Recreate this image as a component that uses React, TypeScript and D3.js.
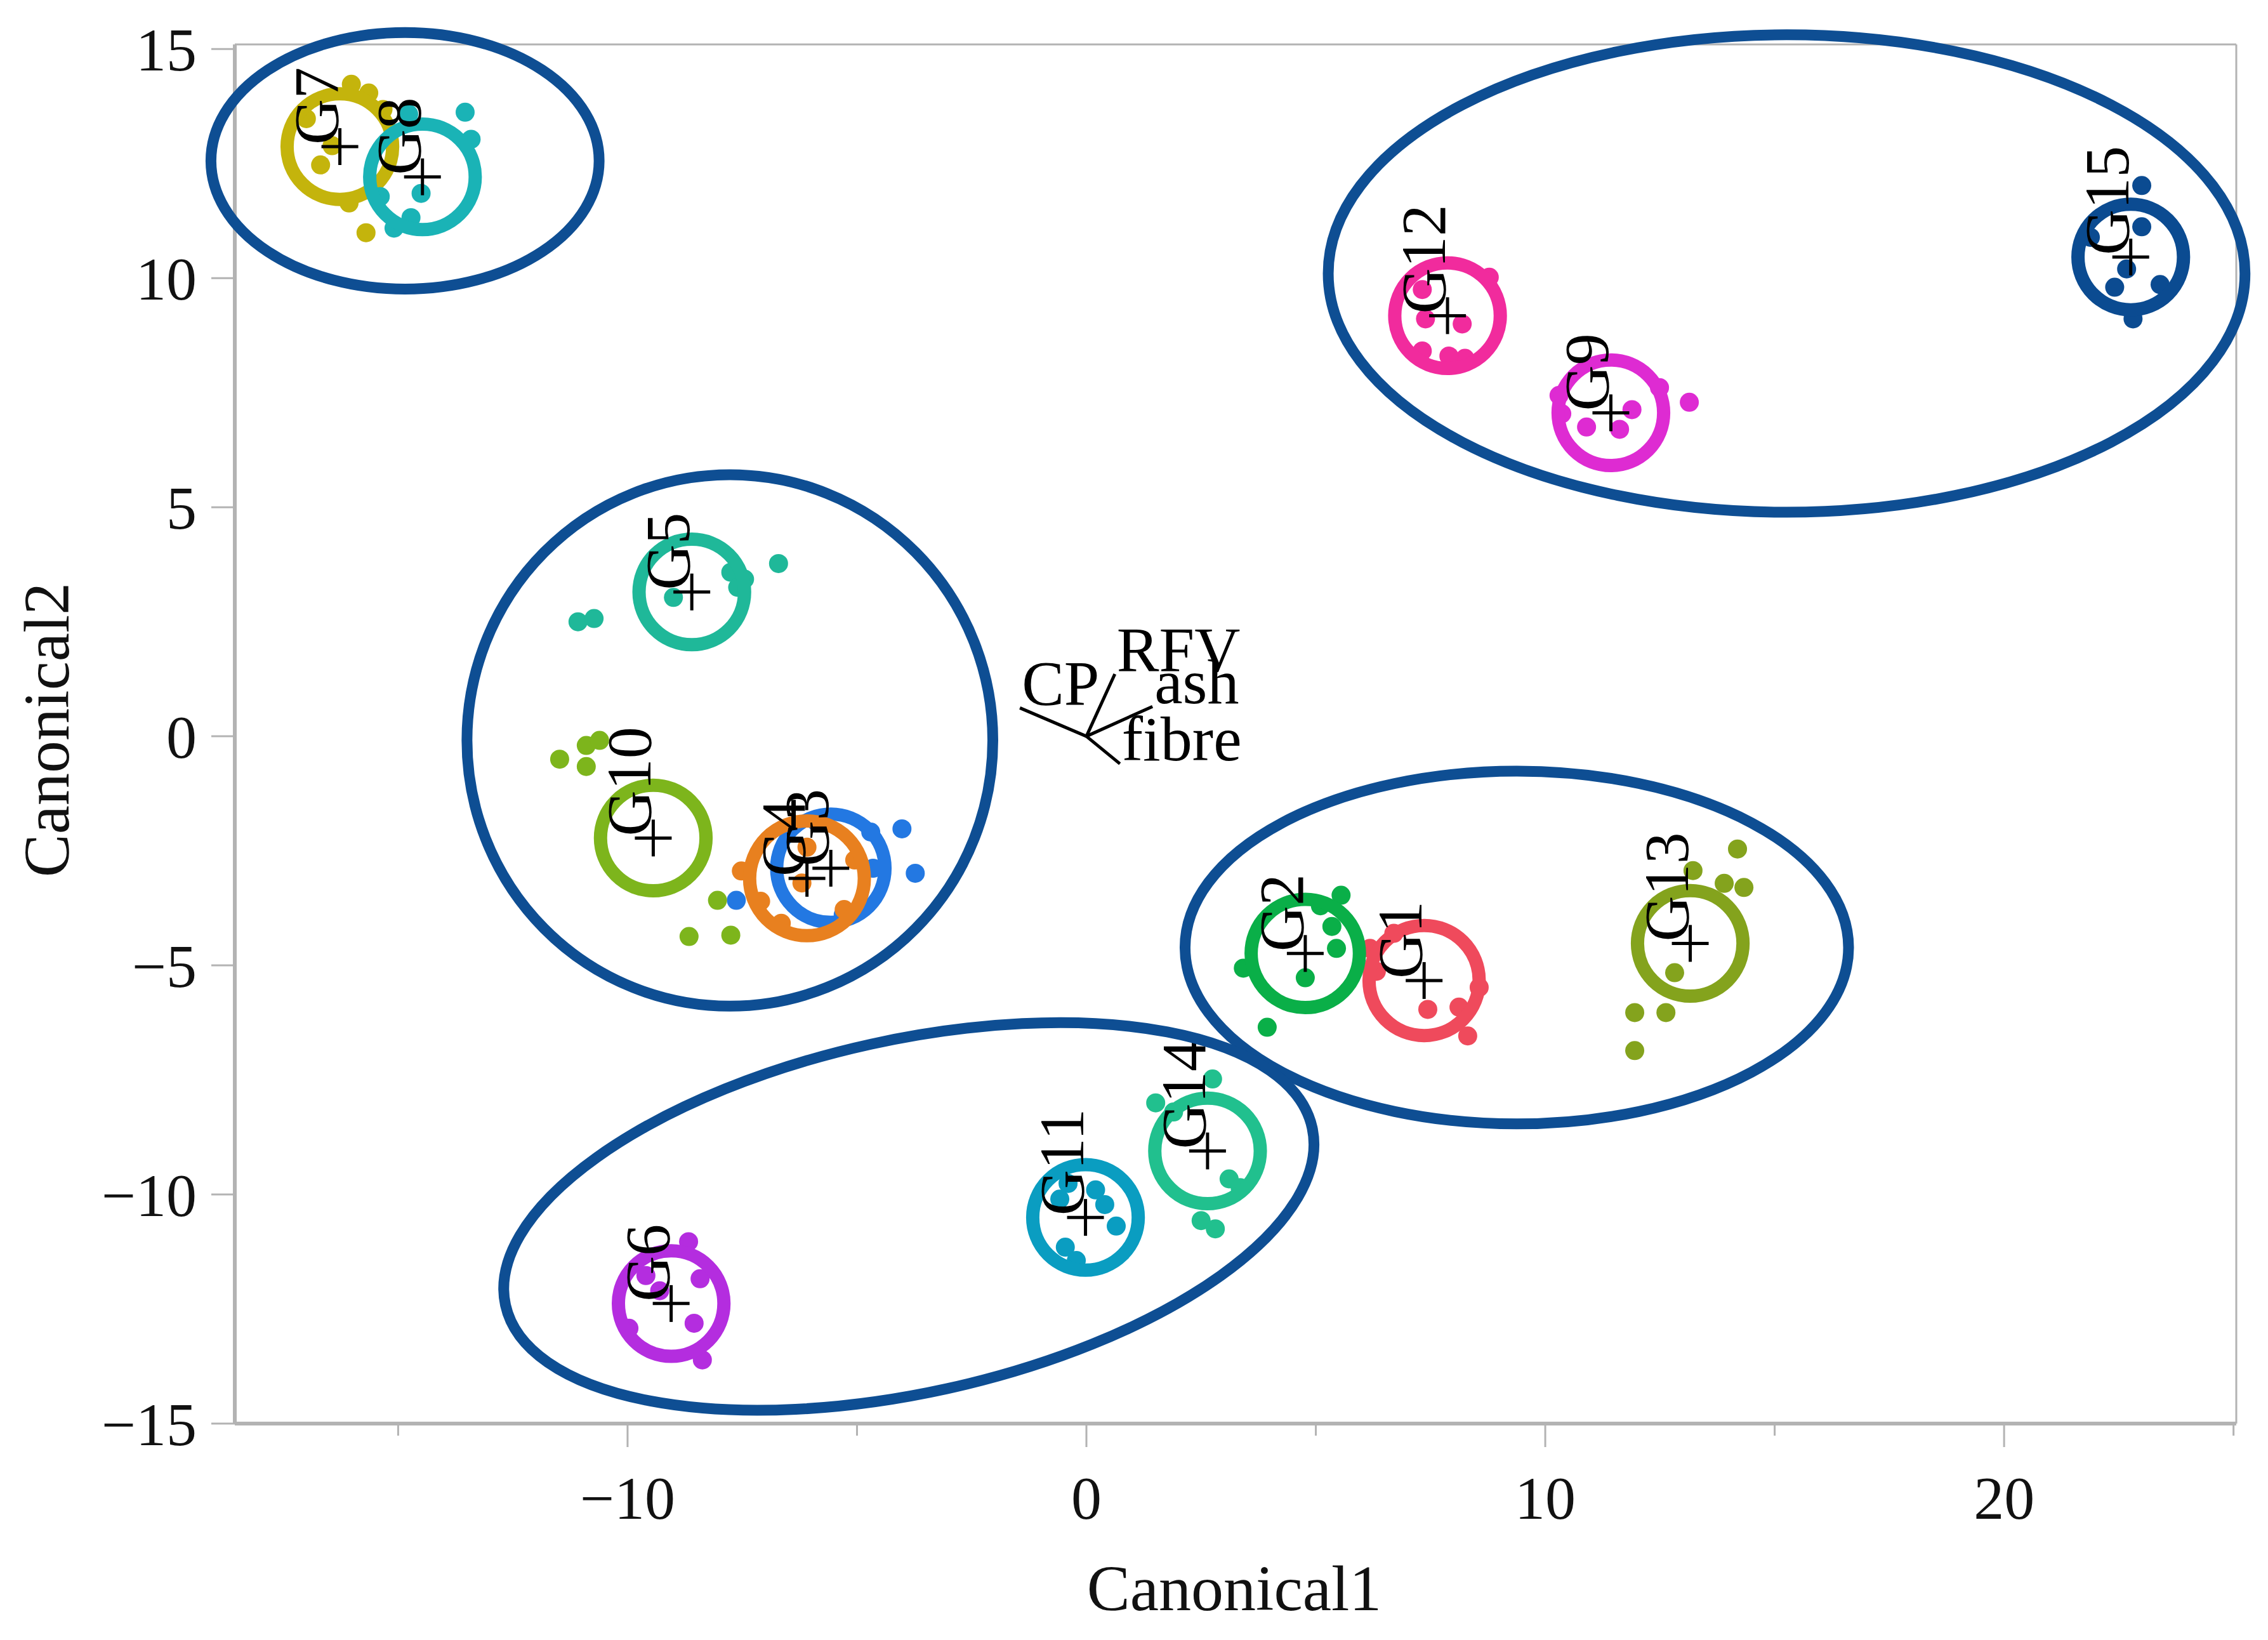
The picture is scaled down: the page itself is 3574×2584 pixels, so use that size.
import * as d3 from 'd3';

// canonical plot: group means, 95% circles, raw points, biplot rays
const groupNames = ['G1', 'G2', 'G3', 'G4', 'G5', 'G6', 'G7', 'G8', 'G9', 'G10', 'G11', 'G12', 'G13', 'G14', 'G15'];
const centroidX = [7.36, 4.77, -5.57, -6.09, -8.6, -9.05, -16.27, -14.47, 11.43, -9.44, -0.02, 7.87, 13.16, 2.64, 22.76];
const centroidY = [-5.33, -4.74, -2.88, -3.1, 3.15, -12.38, 12.87, 12.21, 7.06, -2.22, -10.5, 9.18, -4.52, -9.05, 10.46];
const circleRadius = [1.2, 1.18, 1.18, 1.25, 1.15, 1.15, 1.15, 1.15, 1.15, 1.15, 1.15, 1.15, 1.15, 1.15, 1.15];
const groupColors = ['#ef4a5c', '#0aaf48', '#2378e2', '#e8801f', '#1fb899', '#b42ddf', '#c4b40c', '#1ab3b6',
  '#de2bd2', '#7db51c', '#0a9dc1', '#f12b9d', '#84a31d', '#21c08e', '#0b4b91'];

const groupPoints: [number, number][][] = [
  // G1
  [[6.18, -4.63], [8.56, -5.48], [7.44, -5.96], [8.12, -5.91], [8.31, -6.54], [6.32, -5.13], [6.7, -4.3]],
  // G2
  [[5.55, -3.47], [5.35, -4.15], [5.45, -4.63], [3.42, -5.06], [4.77, -5.27], [3.94, -6.35], [5.1, -3.7]],
  // G3
  [[-4.02, -2.02], [-3.73, -2.99], [-7.63, -3.58], [-4.7, -2.09], [-4.65, -2.88], [-5.9, -1.85], [-5.3, -3.9]],
  // G4
  [[-7.52, -2.94], [-6.09, -2.42], [-5.28, -3.78], [-6.65, -4.08], [-6.2, -3.2], [-5.05, -2.7], [-7.1, -3.6]],
  // G5
  [[-6.71, 3.77], [-7.45, 3.43], [-7.75, 3.58], [-11.08, 2.5], [-10.73, 2.57], [-9.0, 3.03], [-7.6, 3.25]],
  // G6
  [[-8.67, -11.03], [-9.6, -11.77], [-8.42, -11.84], [-8.55, -12.81], [-8.37, -13.61], [-9.97, -12.92], [-9.3, -12.1]],
  // G7
  [[-16.02, 14.23], [-15.64, 14.04], [-16.69, 12.47], [-15.7, 10.99], [-16.07, 11.64], [-16.44, 12.89], [-15.33, 13.68], [-17.0, 13.48]],
  // G8
  [[-13.54, 13.62], [-13.41, 13.03], [-14.5, 11.85], [-14.72, 11.32], [-15.09, 11.09], [-15.39, 11.78], [-14.77, 13.58]],
  // G9
  [[13.14, 7.29], [10.3, 7.44], [10.9, 6.75], [11.62, 6.7], [11.89, 7.13], [12.49, 7.61], [10.36, 7.04]],
  // G10
  [[-11.48, -0.5], [-10.9, -0.2], [-10.61, -0.09], [-10.9, -0.66], [-8.04, -3.58], [-8.66, -4.37], [-7.75, -4.34]],
  // G11
  [[-0.4, -9.76], [0.4, -10.22], [0.65, -10.69], [-0.46, -11.15], [-0.22, -11.44], [-0.58, -10.1], [0.2, -9.9]],
  // G12
  [[8.78, 10.02], [7.32, 9.75], [7.32, 8.41], [8.25, 8.25], [8.19, 9.0], [7.39, 9.11], [7.9, 8.3]],
  // G13
  [[14.19, -2.46], [13.22, -2.93], [13.9, -3.21], [14.33, -3.3], [12.82, -5.16], [11.95, -6.03], [12.63, -6.03], [11.95, -6.86]],
  // G14
  [[2.75, -7.48], [1.51, -8.0], [3.11, -9.66], [2.5, -10.57], [2.81, -10.75], [3.35, -9.85], [1.9, -8.2]],
  // G15
  [[23.0, 12.02], [23.0, 11.12], [22.67, 10.2], [22.41, 9.8], [23.4, 9.86], [22.81, 9.11], [21.88, 10.89]],
];

// hand-drawn cluster ellipses (data units, angle in degrees)
const clusterCx = [-14.85, 15.26, -7.77, 9.38, -3.87];
const clusterCy = [12.56, 10.1, -0.09, -4.61, -10.48];
const clusterRx = [4.23, 9.99, 5.73, 7.23, 9.0];
const clusterRy = [2.8, 5.21, 5.8, 3.85, 3.85];
const clusterAngle = [0, 0, 0, 0, 12.4];

// biplot rays
const rayNames = ['CP', 'RFV', 'ash', 'fibre'];
const rayX = [-1.45, 0.62, 1.44, 0.73];
const rayY = [0.62, 1.36, 0.65, -0.6];

const xMajor = [-10, 0, 10, 20];
const xMinor = [-15, -5, 5, 15, 25];
const yTicks = [-15, -10, -5, 0, 5, 10, 15];

const FONT = "'Liberation Serif', 'Times New Roman', serif";
const AXIS_GREY = '#b3b3b3';
const RING_BLUE = '#0e4e93';

export default function App() {
  const width = 3574;
  const height = 2584;
  const left = 370;
  const right = 3524;
  const top = 70;
  const bottom = 2243;

  const x = d3.scaleLinear().domain([-18.56, 25.06]).range([left, right]);
  const y = d3.scaleLinear().domain([-15, 15.1]).range([bottom, top]);
  const kx = x(1) - x(0);
  const ky = y(0) - y(1);
  const fmt = d3.format('d');

  return (
    <svg
      width={width}
      height={height}
      style={{ position: 'absolute', left: 0, top: 0, background: '#fff' }}
      fontFamily={FONT}
    >
      {/* frame */}
      <line x1={left} x2={right} y1={top} y2={top} stroke={AXIS_GREY} strokeWidth={3} />
      <line x1={right} x2={right} y1={top} y2={bottom} stroke={AXIS_GREY} strokeWidth={3} />
      <line x1={left} x2={left} y1={top} y2={bottom} stroke={AXIS_GREY} strokeWidth={6} />
      <line x1={left} x2={right} y1={bottom} y2={bottom} stroke={AXIS_GREY} strokeWidth={6} />

      {/* y axis */}
      {yTicks.map((t) => (
        <g key={`y${t}`}>
          <line x1={left - 37} x2={left} y1={y(t)} y2={y(t)} stroke={AXIS_GREY} strokeWidth={3} />
          <text x={left - 60} y={y(t)} dy="0.35em" textAnchor="end" fontSize={96} fill="#111">
            {t < 0 ? `\u2212${fmt(-t)}` : fmt(t)}
          </text>
        </g>
      ))}

      {/* x axis */}
      {xMajor.map((t) => (
        <g key={`x${t}`}>
          <line x1={x(t)} x2={x(t)} y1={bottom} y2={bottom + 37} stroke={AXIS_GREY} strokeWidth={3} />
          <text x={x(t)} y={2393} textAnchor="middle" fontSize={96} fill="#111">
            {t < 0 ? `\u2212${fmt(-t)}` : fmt(t)}
          </text>
        </g>
      ))}
      {xMinor.map((t) => (
        <line key={`xm${t}`} x1={x(t)} x2={x(t)} y1={bottom} y2={bottom + 19} stroke={AXIS_GREY} strokeWidth={3} />
      ))}

      <text x={1945} y={2537} textAnchor="middle" fontSize={102} fill="#111">Canonical1</text>
      <text transform="translate(108,1150) rotate(-90)" textAnchor="middle" fontSize={102} fill="#111">
        Canonical2
      </text>

      {/* points and confidence circles */}
      {groupNames.map((g, i) => (
        <g key={g}>
          {groupPoints[i].map(([px, py], j) => (
            <circle key={j} cx={x(px)} cy={y(py)} r={15} fill={groupColors[i]} />
          ))}
          <circle
            cx={x(centroidX[i])}
            cy={y(centroidY[i])}
            r={circleRadius[i] * kx}
            fill="none"
            stroke={groupColors[i]}
            strokeWidth={21}
          />
        </g>
      ))}

      {/* centroid markers and labels */}
      {groupNames.map((g, i) => {
        const cx = x(centroidX[i]);
        const cy = y(centroidY[i]);
        return (
          <g key={`m${g}`}>
            <line x1={cx - 29} x2={cx + 29} y1={cy} y2={cy} stroke="#000" strokeWidth={5} />
            <line x1={cx} x2={cx} y1={cy - 29} y2={cy + 29} stroke="#000" strokeWidth={5} />
            <text
              transform={`translate(${cx - 4},${cy - 3}) rotate(-90)`}
              fontSize={100}
              fill="#000"
            >
              {g}
            </text>
          </g>
        );
      })}

      {/* biplot rays */}
      {rayNames.map((n, i) => (
        <g key={n}>
          <line x1={x(0)} y1={y(0)} x2={x(rayX[i])} y2={y(rayY[i])} stroke="#000" strokeWidth={5} />
          <text x={x(rayX[i]) + 3} y={y(rayY[i]) - 5} fontSize={100} fill="#000">
            {n}
          </text>
        </g>
      ))}

      {/* cluster ellipses */}
      {clusterCx.map((c, i) => (
        <ellipse
          key={`e${i}`}
          cx={0}
          cy={0}
          rx={clusterRx[i] * kx}
          ry={clusterRy[i] * ky}
          transform={`translate(${x(c)},${y(clusterCy[i])}) rotate(${-clusterAngle[i]})`}
          fill="none"
          stroke={RING_BLUE}
          strokeWidth={17}
        />
      ))}
    </svg>
  );
}
